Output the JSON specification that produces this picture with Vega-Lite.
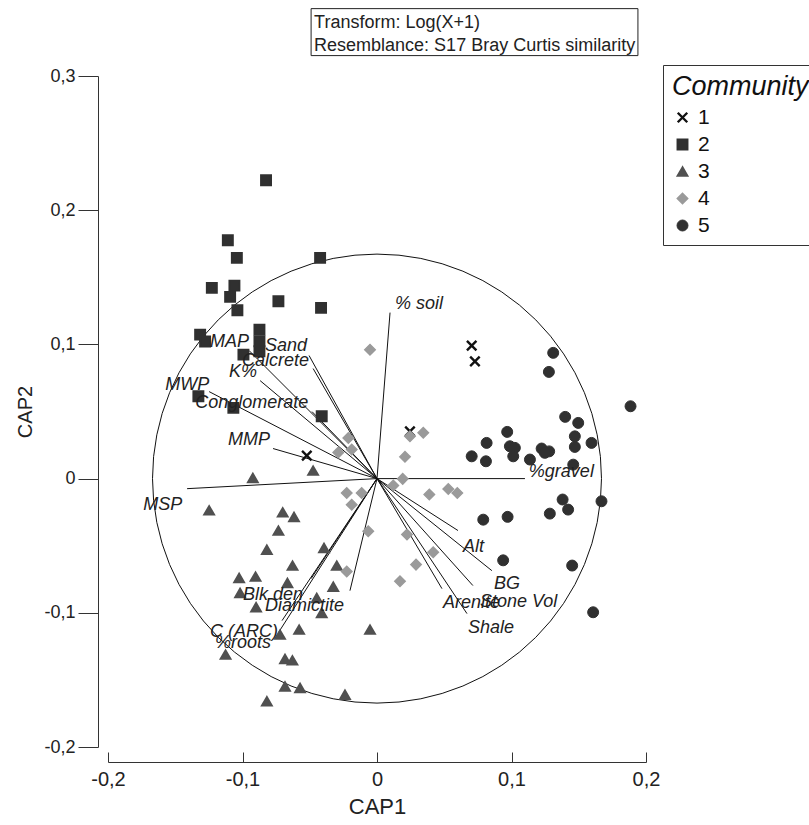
{
  "$schema": "https://vega.github.io/schema/vega-lite/v6.json",
  "width": 538,
  "height": 671,
  "autosize": {"type": "none"},
  "padding": {"left": 108, "top": 76, "right": 163, "bottom": 78},
  "background": "white",
  "config": {
    "font": "Liberation Sans",
    "view": {"stroke": null},
    "locale": {"number": {"decimal": ",", "thousands": ".", "grouping": [3], "currency": ["", " €"], "minus": "-"}},
    "axis": {"grid": false, "domainColor": "#333", "tickColor": "#333", "labelColor": "#222", "titleColor": "#222", "labelFont": "Liberation Sans", "titleFont": "Liberation Sans", "titleFontWeight": "normal", "labelFlush": false},
    "legend": {"orient": "none", "legendX": 555, "legendY": -11, "titleFontSize": 27, "titleFontStyle": "italic", "titleFontWeight": "normal", "titleColor": "#111", "labelFontSize": 21, "labelColor": "#111", "padding": 9, "strokeColor": "#333", "fillColor": "white", "rowPadding": 5, "titlePadding": 6, "labelOffset": 5}
  },
  "datasets": {
    "points": [
      {"CAP1": 0.0704, "CAP2": 0.0991, "Community": "1"},
      {"CAP1": 0.0728, "CAP2": 0.0874, "Community": "1"},
      {"CAP1": -0.0522, "CAP2": 0.0171, "Community": "1"},
      {"CAP1": 0.0245, "CAP2": 0.0352, "Community": "1"},
      {"CAP1": -0.0825, "CAP2": 0.2223, "Community": "2"},
      {"CAP1": -0.1109, "CAP2": 0.1776, "Community": "2"},
      {"CAP1": -0.1042, "CAP2": 0.1645, "Community": "2"},
      {"CAP1": -0.0423, "CAP2": 0.1645, "Community": "2"},
      {"CAP1": -0.1228, "CAP2": 0.1421, "Community": "2"},
      {"CAP1": -0.1060, "CAP2": 0.1438, "Community": "2"},
      {"CAP1": -0.1092, "CAP2": 0.1354, "Community": "2"},
      {"CAP1": -0.0733, "CAP2": 0.1321, "Community": "2"},
      {"CAP1": -0.1038, "CAP2": 0.1254, "Community": "2"},
      {"CAP1": -0.0416, "CAP2": 0.1272, "Community": "2"},
      {"CAP1": -0.1315, "CAP2": 0.1073, "Community": "2"},
      {"CAP1": -0.1278, "CAP2": 0.1021, "Community": "2"},
      {"CAP1": -0.0874, "CAP2": 0.1110, "Community": "2"},
      {"CAP1": -0.0874, "CAP2": 0.1023, "Community": "2"},
      {"CAP1": -0.0874, "CAP2": 0.0949, "Community": "2"},
      {"CAP1": -0.0993, "CAP2": 0.0924, "Community": "2"},
      {"CAP1": -0.1328, "CAP2": 0.0613, "Community": "2"},
      {"CAP1": -0.1068, "CAP2": 0.0527, "Community": "2"},
      {"CAP1": -0.0411, "CAP2": 0.0464, "Community": "2"},
      {"CAP1": -0.0475, "CAP2": 0.0060, "Community": "3"},
      {"CAP1": -0.0923, "CAP2": 0.0005, "Community": "3"},
      {"CAP1": -0.1248, "CAP2": -0.0236, "Community": "3"},
      {"CAP1": -0.0701, "CAP2": -0.0251, "Community": "3"},
      {"CAP1": -0.0617, "CAP2": -0.0285, "Community": "3"},
      {"CAP1": -0.0733, "CAP2": -0.0387, "Community": "3"},
      {"CAP1": -0.0819, "CAP2": -0.0529, "Community": "3"},
      {"CAP1": -0.0394, "CAP2": -0.0516, "Community": "3"},
      {"CAP1": -0.0628, "CAP2": -0.0648, "Community": "3"},
      {"CAP1": -0.0299, "CAP2": -0.0648, "Community": "3"},
      {"CAP1": -0.1025, "CAP2": -0.0740, "Community": "3"},
      {"CAP1": -0.0903, "CAP2": -0.0730, "Community": "3"},
      {"CAP1": -0.0666, "CAP2": -0.0777, "Community": "3"},
      {"CAP1": -0.1018, "CAP2": -0.0852, "Community": "3"},
      {"CAP1": -0.0325, "CAP2": -0.0805, "Community": "3"},
      {"CAP1": -0.0448, "CAP2": -0.0889, "Community": "3"},
      {"CAP1": -0.0899, "CAP2": -0.0958, "Community": "3"},
      {"CAP1": -0.0411, "CAP2": -0.1001, "Community": "3"},
      {"CAP1": -0.0579, "CAP2": -0.1125, "Community": "3"},
      {"CAP1": -0.0721, "CAP2": -0.1162, "Community": "3"},
      {"CAP1": -0.0052, "CAP2": -0.1125, "Community": "3"},
      {"CAP1": -0.1126, "CAP2": -0.1311, "Community": "3"},
      {"CAP1": -0.0684, "CAP2": -0.1344, "Community": "3"},
      {"CAP1": -0.0629, "CAP2": -0.1354, "Community": "3"},
      {"CAP1": -0.0684, "CAP2": -0.1548, "Community": "3"},
      {"CAP1": -0.0572, "CAP2": -0.1560, "Community": "3"},
      {"CAP1": -0.0238, "CAP2": -0.1610, "Community": "3"},
      {"CAP1": -0.0819, "CAP2": -0.1659, "Community": "3"},
      {"CAP1": -0.0052, "CAP2": 0.0961, "Community": "4"},
      {"CAP1": -0.0213, "CAP2": 0.0303, "Community": "4"},
      {"CAP1": -0.0288, "CAP2": 0.0194, "Community": "4"},
      {"CAP1": -0.0188, "CAP2": 0.0216, "Community": "4"},
      {"CAP1": 0.0245, "CAP2": 0.0315, "Community": "4"},
      {"CAP1": 0.0344, "CAP2": 0.0341, "Community": "4"},
      {"CAP1": 0.0208, "CAP2": 0.0162, "Community": "4"},
      {"CAP1": 0.0191, "CAP2": -0.0002, "Community": "4"},
      {"CAP1": 0.0121, "CAP2": -0.0052, "Community": "4"},
      {"CAP1": -0.0225, "CAP2": -0.0107, "Community": "4"},
      {"CAP1": -0.0114, "CAP2": -0.0107, "Community": "4"},
      {"CAP1": -0.0188, "CAP2": -0.0194, "Community": "4"},
      {"CAP1": 0.0389, "CAP2": -0.0119, "Community": "4"},
      {"CAP1": 0.0530, "CAP2": -0.0077, "Community": "4"},
      {"CAP1": 0.0597, "CAP2": -0.0107, "Community": "4"},
      {"CAP1": -0.0065, "CAP2": -0.0393, "Community": "4"},
      {"CAP1": 0.0223, "CAP2": -0.0417, "Community": "4"},
      {"CAP1": 0.0418, "CAP2": -0.0549, "Community": "4"},
      {"CAP1": 0.0290, "CAP2": -0.0641, "Community": "4"},
      {"CAP1": -0.0225, "CAP2": -0.0693, "Community": "4"},
      {"CAP1": 0.0171, "CAP2": -0.0765, "Community": "4"},
      {"CAP1": 0.1310, "CAP2": 0.0937, "Community": "5"},
      {"CAP1": 0.1278, "CAP2": 0.0795, "Community": "5"},
      {"CAP1": 0.1885, "CAP2": 0.0539, "Community": "5"},
      {"CAP1": 0.1399, "CAP2": 0.0460, "Community": "5"},
      {"CAP1": 0.1496, "CAP2": 0.0415, "Community": "5"},
      {"CAP1": 0.0968, "CAP2": 0.0348, "Community": "5"},
      {"CAP1": 0.0815, "CAP2": 0.0266, "Community": "5"},
      {"CAP1": 0.1471, "CAP2": 0.0315, "Community": "5"},
      {"CAP1": 0.1471, "CAP2": 0.0236, "Community": "5"},
      {"CAP1": 0.1595, "CAP2": 0.0266, "Community": "5"},
      {"CAP1": 0.0988, "CAP2": 0.0241, "Community": "5"},
      {"CAP1": 0.1025, "CAP2": 0.0229, "Community": "5"},
      {"CAP1": 0.1013, "CAP2": 0.0166, "Community": "5"},
      {"CAP1": 0.1224, "CAP2": 0.0224, "Community": "5"},
      {"CAP1": 0.1280, "CAP2": 0.0203, "Community": "5"},
      {"CAP1": 0.1248, "CAP2": 0.0192, "Community": "5"},
      {"CAP1": 0.0704, "CAP2": 0.0166, "Community": "5"},
      {"CAP1": 0.0810, "CAP2": 0.0129, "Community": "5"},
      {"CAP1": 0.1137, "CAP2": 0.0142, "Community": "5"},
      {"CAP1": 0.1459, "CAP2": 0.0104, "Community": "5"},
      {"CAP1": 0.1380, "CAP2": -0.0156, "Community": "5"},
      {"CAP1": 0.1421, "CAP2": -0.0231, "Community": "5"},
      {"CAP1": 0.1669, "CAP2": -0.0169, "Community": "5"},
      {"CAP1": 0.1285, "CAP2": -0.0261, "Community": "5"},
      {"CAP1": 0.0971, "CAP2": -0.0285, "Community": "5"},
      {"CAP1": 0.0790, "CAP2": -0.0306, "Community": "5"},
      {"CAP1": 0.0938, "CAP2": -0.0609, "Community": "5"},
      {"CAP1": 0.1451, "CAP2": -0.0648, "Community": "5"},
      {"CAP1": 0.1607, "CAP2": -0.0996, "Community": "5"}
    ],
    "vectors": [
      {"name": "% soil", "ex": 0.0097, "ey": 0.1237, "lx": 0.0134, "ly": 0.1304},
      {"name": "%gravel", "ex": 0.1100, "ey": 0.0, "lx": 0.1129, "ly": 0.0052},
      {"name": "Alt", "ex": 0.0602, "ey": -0.0387, "lx": 0.0639, "ly": -0.0507},
      {"name": "BG", "ex": 0.0854, "ey": -0.0686, "lx": 0.0869, "ly": -0.0782},
      {"name": "Stone Vol", "ex": 0.0713, "ey": -0.0797, "lx": 0.0765, "ly": -0.0917},
      {"name": "Arenite", "ex": 0.0483, "ey": -0.0820, "lx": 0.0490, "ly": -0.0924},
      {"name": "Shale", "ex": 0.0669, "ey": -0.1006, "lx": 0.0676, "ly": -0.1110},
      {"name": "Sand", "ex": -0.0505, "ey": 0.0917, "lx": -0.0832, "ly": 0.0991},
      {"name": "Calcrete", "ex": -0.0475, "ey": 0.0820, "lx": -0.1003, "ly": 0.0879},
      {"name": "MAP", "ex": -0.0951, "ey": 0.0954, "lx": -0.1241, "ly": 0.1021},
      {"name": "K%", "ex": -0.0869, "ey": 0.0730, "lx": -0.1100, "ly": 0.0797},
      {"name": "MWP", "ex": -0.1248, "ey": 0.0648, "lx": -0.1575, "ly": 0.0700},
      {"name": "Conglomerate", "ex": -0.0483, "ey": 0.0499, "lx": -0.1352, "ly": 0.0566},
      {"name": "MMP", "ex": -0.0773, "ey": 0.0224, "lx": -0.1107, "ly": 0.0291},
      {"name": "MSP", "ex": -0.1412, "ey": -0.0075, "lx": -0.1738, "ly": -0.0194},
      {"name": "Blk den", "ex": -0.0490, "ey": -0.0745, "lx": -0.0996, "ly": -0.0864},
      {"name": "Diamictite", "ex": -0.0201, "ey": -0.0835, "lx": -0.0832, "ly": -0.0946},
      {"name": "C (ARC)", "ex": -0.0706, "ey": -0.1058, "lx": -0.1241, "ly": -0.1140},
      {"name": "%roots", "ex": -0.0728, "ey": -0.1140, "lx": -0.1204, "ly": -0.1222}
    ],
    "box": [{"x1": -0.049, "x2": 0.194, "y1": 0.3502, "y2": 0.3152}],
    "boxText": [
      {"t": "Transform: Log(X+1)", "x": -0.0468, "y": 0.3395},
      {"t": "Resemblance: S17 Bray Curtis similarity", "x": -0.0468, "y": 0.3222}
    ],
    "origin": [{"cx": 0, "cy": 0}]
  },
  "layer": [
    {
      "data": {"name": "origin"},
      "mark": {"type": "point", "shape": "circle", "filled": false, "size": 201600, "stroke": "#111", "strokeWidth": 1, "opacity": 1},
      "encoding": {
        "x": {"field": "cx", "type": "quantitative", "scale": {"domain": [-0.2, 0.2], "nice": false, "zero": false},
          "axis": {"title": "CAP1", "values": [-0.2, -0.1, 0, 0.1, 0.2], "format": ".1~f", "offset": 15, "tickSize": -10, "labelFontSize": 20, "labelPadding": 17, "labelFlush": false, "titleFontSize": 22, "titlePadding": 7, "domainWidth": 1, "tickWidth": 1}},
        "y": {"field": "cy", "type": "quantitative", "scale": {"domain": [-0.2, 0.3], "nice": false, "zero": false},
          "axis": {"title": "CAP2", "values": [-0.2, -0.1, 0, 0.1, 0.2, 0.3], "format": ".1~f", "offset": 10, "tickSize": 20, "labelFontSize": 18, "labelPadding": 3, "labelFlush": false, "titleFontSize": 20, "titlePadding": 8, "domainWidth": 1, "tickWidth": 1}}
      }
    },
    {
      "data": {"name": "vectors"},
      "mark": {"type": "rule", "stroke": "#111", "strokeWidth": 1},
      "encoding": {
        "x": {"field": "ex", "type": "quantitative"},
        "y": {"field": "ey", "type": "quantitative"},
        "x2": {"datum": 0},
        "y2": {"datum": 0}
      }
    },
    {
      "data": {"name": "points"},
      "mark": {"type": "point", "filled": true, "opacity": 1},
      "encoding": {
        "x": {"field": "CAP1", "type": "quantitative"},
        "y": {"field": "CAP2", "type": "quantitative"},
        "shape": {"field": "Community", "type": "nominal", "scale": {"domain": ["1", "2", "3", "4", "5"], "range": ["M-1,-1L1,1M-1,1L1,-1", "square", "triangle-up", "diamond", "circle"]}, "legend": {"title": "Community"}},
        "fill": {"field": "Community", "type": "nominal", "scale": {"domain": ["1", "2", "3", "4", "5"], "range": ["#111111", "#303030", "#505050", "#9a9a9a", "#303030"]}, "legend": {"title": "Community"}},
        "stroke": {"field": "Community", "type": "nominal", "scale": {"domain": ["1", "2", "3", "4", "5"], "range": ["#111111", "#303030", "#505050", "#9a9a9a", "#303030"]}, "legend": {"title": "Community"}},
        "size": {"field": "Community", "type": "ordinal", "scale": {"domain": ["1", "2", "3", "4", "5"], "range": [90, 120, 160, 145, 125]}, "legend": {"title": "Community"}},
        "strokeWidth": {"field": "Community", "type": "ordinal", "scale": {"domain": ["1", "2", "3", "4", "5"], "range": [2.4, 1, 1, 1, 1]}, "legend": {"title": "Community"}}
      }
    },
    {
      "data": {"name": "vectors"},
      "mark": {"type": "text", "align": "left", "baseline": "middle", "fontStyle": "italic", "fontSize": 18, "color": "#222"},
      "encoding": {
        "x": {"field": "lx", "type": "quantitative"},
        "y": {"field": "ly", "type": "quantitative"},
        "text": {"field": "name"}
      }
    },
    {
      "data": {"name": "box"},
      "mark": {"type": "rect", "fill": "white", "stroke": "#222", "strokeWidth": 1},
      "encoding": {
        "x": {"field": "x1", "type": "quantitative"},
        "x2": {"field": "x2"},
        "y": {"field": "y1", "type": "quantitative"},
        "y2": {"field": "y2"}
      }
    },
    {
      "data": {"name": "boxText"},
      "mark": {"type": "text", "align": "left", "baseline": "middle", "fontSize": 18, "color": "#222"},
      "encoding": {
        "x": {"field": "x", "type": "quantitative"},
        "y": {"field": "y", "type": "quantitative"},
        "text": {"field": "t"}
      }
    }
  ]
}
